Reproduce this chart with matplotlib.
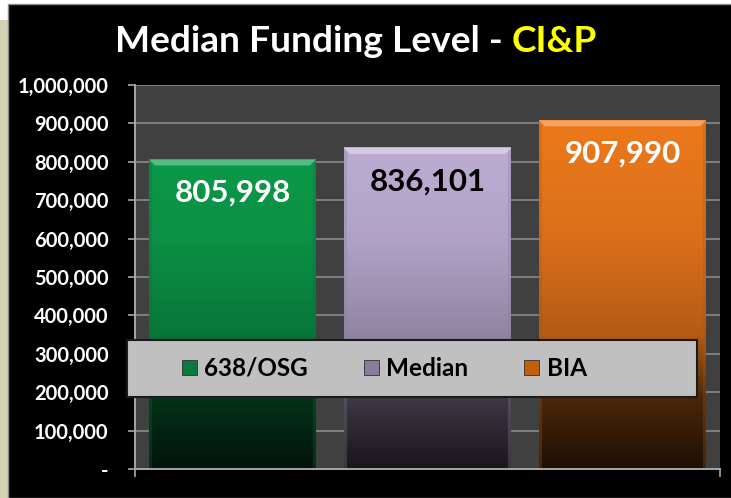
import numpy as np
import matplotlib
matplotlib.use("Agg")
import matplotlib.pyplot as plt
from matplotlib.patches import Rectangle, Polygon, Patch
from matplotlib.colors import to_rgb

# ---------------- data ----------------
categories = ["638/OSG", "Median", "BIA"]
values = [805998, 836101, 907990]
value_labels = ["805,998", "836,101", "907,990"]
yticks = [0, 100000, 200000, 300000, 400000, 500000, 600000, 700000, 800000, 900000, 1000000]
ytick_labels = ["-", "100,000", "200,000", "300,000", "400,000", "500,000",
                "600,000", "700,000", "800,000", "900,000", "1,000,000"]
title_main = "Median Funding Level - "
title_accent = "CI&P"

# ---------------- style ----------------
bar_colors = ["#0ca04c", "#c4b4dc", "#f27c1c"]
legend_colors = ["#0a7a3a", "#8a7c9c", "#c0600e"]
label_colors = ["white", "black", "white"]
FONT = "Lato"

W, H = 731, 498
fig = plt.figure(figsize=(W / 100, H / 100), dpi=100, facecolor="white")

# background panels
fig.patches.append(Rectangle((0, 0), 8 / W, (H - 20) / H, transform=fig.transFigure,
                             facecolor="#d6d2b4", edgecolor="none", zorder=-2))
fig.patches.append(Rectangle((8 / W, 0), 1.02 - 8 / W, (H - 4) / H, transform=fig.transFigure,
                             facecolor="black", edgecolor="#8c8c8c", lw=1, zorder=-2))

ax_left, ax_right, ax_top, ax_bottom = 135, 720, 85, 469
ax = fig.add_axes([ax_left / W, (H - ax_bottom) / H, (ax_right - ax_left) / W, (ax_bottom - ax_top) / H])
ax.set_zorder(1)
ax.set_facecolor("#404040")

x = np.arange(len(categories))
bars = ax.bar(x, values, width=0.856, color=bar_colors, zorder=2, linewidth=0)
ax.set_xlim(-0.5, len(categories) - 0.5)
ax.set_ylim(0, 1000000)

# gradient fill for each bar (bright top, dark bottom)
stops = [0.0, 0.19, 0.35, 0.6, 1.0]
facs = [0.12, 0.32, 0.74, 0.9, 1.0]
px_x = (len(categories)) / (ax_right - ax_left)     # data units per pixel (x)
px_y = 1000000 / (ax_bottom - ax_top)               # data units per pixel (y)
for bar, c in zip(bars, bar_colors):
    base = np.array(to_rgb(c))
    x0, w, h = bar.get_x(), bar.get_width(), bar.get_height()
    yy = np.linspace(0, h, 400)
    f = np.interp(yy / 1000000, stops, facs)
    img = np.clip(base[None, :] * f[:, None], 0, 1)[:, None, :]
    ax.imshow(img, extent=(x0, x0 + w, 0, h), origin="lower", aspect="auto",
              interpolation="bilinear", zorder=2.1)
    # bevel highlight on top
    d = 6
    light = base + (1 - base) * 0.3
    ax.add_patch(Polygon([(x0, h), (x0 + w, h), (x0 + w - d * px_x, h - d * px_y),
                          (x0 + d * px_x, h - d * px_y)], closed=True,
                         facecolor=light, edgecolor="none", zorder=2.2))
    # darker sides
    dark = base * 0.7
    ax.add_patch(Polygon([(x0, h), (x0 + 3 * px_x, h - d * px_y), (x0 + 3 * px_x, 0), (x0, 0)],
                         closed=True, facecolor=dark, edgecolor="none", alpha=0.3, zorder=2.2))
    ax.add_patch(Polygon([(x0 + w, h), (x0 + w - 3 * px_x, h - d * px_y), (x0 + w - 3 * px_x, 0), (x0 + w, 0)],
                         closed=True, facecolor=dark, edgecolor="none", alpha=0.3, zorder=2.2))

ax.set_xlim(-0.5, len(categories) - 0.5)
ax.set_ylim(0, 1000000)

# data labels
for bar, lab, col in zip(bars, value_labels, label_colors):
    ax.annotate(lab, (bar.get_x() + bar.get_width() / 2, bar.get_height()),
                xytext=(0, -24), textcoords="offset points", ha="center", va="center",
                fontsize=22.5, fontweight="bold", color=col, family=FONT, zorder=6)

# grid & axes
ax.yaxis.grid(True, color="#8a8a8a", lw=1.2)
ax.set_axisbelow(True)
for s in ["top", "right"]:
    ax.spines[s].set_visible(False)
for s in ["left", "bottom"]:
    ax.spines[s].set_color("#a6a6a6")
    ax.spines[s].set_linewidth(1.4)
ax.set_yticks(yticks, ytick_labels)
ax.tick_params(axis="y", direction="out", length=5, width=1.2, color="#a6a6a6",
               pad=14, labelcolor="white", labelsize=14.5)
for t in ax.get_yticklabels():
    t.set_fontfamily(FONT)
    t.set_fontweight("bold")
ax.set_xticks([-0.5, len(categories) - 0.5])
ax.set_xticklabels([])
ax.tick_params(axis="x", direction="out", length=6, width=1.2, color="#a6a6a6")

# legend box
bx0 = (127 - ax_left) / (ax_right - ax_left)
by0 = (ax_bottom - 397) / (ax_bottom - ax_top)
bw = 570 / (ax_right - ax_left)
bh = 57 / (ax_bottom - ax_top)
ax.add_patch(Rectangle((bx0, by0), bw, bh, transform=ax.transAxes, facecolor="#c0c0c0",
                       edgecolor="#1a1a1a", lw=1.5, zorder=4, clip_on=False))
handles = [Patch(facecolor=c, edgecolor="#303030", lw=0.6) for c in legend_colors]
leg = ax.legend(handles, categories, loc="center left",
                bbox_to_anchor=((182 - ax_left) / (ax_right - ax_left), by0 + bh / 2),
                ncol=3, frameon=False, borderpad=0, borderaxespad=0,
                handlelength=0.62, handleheight=0.62, handletextpad=0.3, columnspacing=2.3,
                prop={"family": FONT, "weight": "bold", "size": 17.5})
leg.set_zorder(5)
for t in leg.get_texts():
    t.set_color("black")

# title (two colours)
t1 = fig.text(115 / W, (H - 52) / H, title_main, color="white", fontsize=26.7,
              fontweight="bold", family=FONT, ha="left", va="baseline")
fig.canvas.draw()
bb = t1.get_window_extent()
fig.text(bb.x1 / W, (H - 52) / H, title_accent, color="#ffff00", fontsize=26.7,
         fontweight="bold", family=FONT, ha="left", va="baseline")

fig.savefig("out.png", dpi=100, facecolor=fig.get_facecolor())
